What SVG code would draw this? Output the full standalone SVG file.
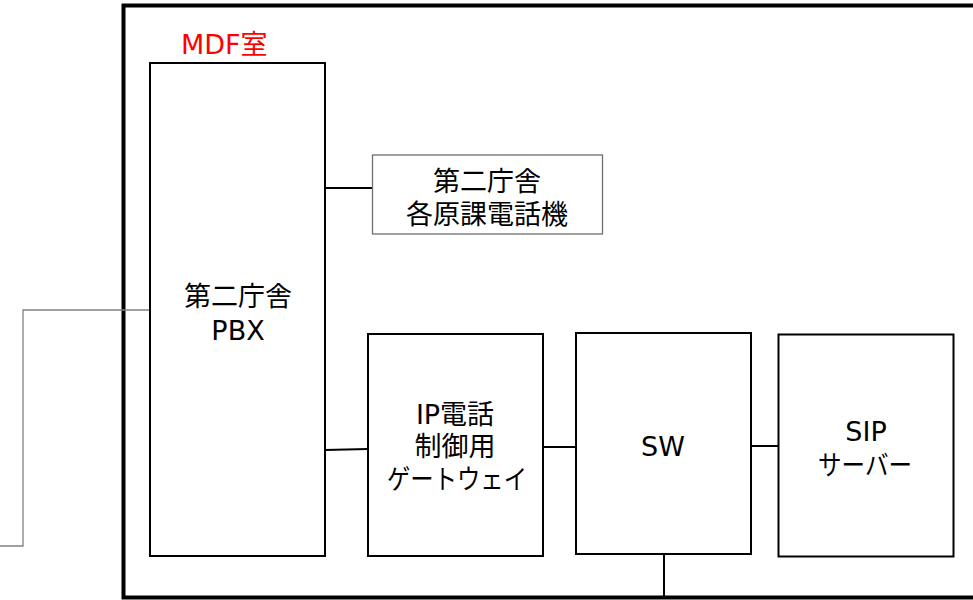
<svg xmlns="http://www.w3.org/2000/svg" width="973" height="600" viewBox="0 0 973 600">
<style>
.box{fill:#fff;stroke:#000;stroke-width:2}
.thin{fill:#fff;stroke:#6f6f6f;stroke-width:1.3}
.t{font-family:"DejaVu Sans","Noto Sans CJK JP",sans-serif;font-size:27px;fill:#000;text-anchor:middle}
.c{stroke:#000;stroke-width:2;fill:none}
</style>
<rect width="973" height="600" fill="#fff"/>
<g id="mdf-room">
<rect x="123.5" y="5.5" width="860" height="592" fill="none" stroke="#000" stroke-width="4"/>
<text x="181" y="54" font-family="DejaVu Sans,'Noto Sans CJK JP',sans-serif" font-size="27" fill="#ff0000">MDF室</text>
</g>
<g id="connectors">
<polyline points="150,310 23,310 23,546 0,546" fill="none" stroke="#808080" stroke-width="1.3"/>
<line class="c" x1="325" y1="188" x2="372" y2="188"/>
<line class="c" x1="325" y1="450" x2="368" y2="449"/>
<line class="c" x1="543" y1="447" x2="576" y2="447"/>
<line class="c" x1="751" y1="446" x2="778" y2="446"/>
<line class="c" x1="664" y1="554" x2="664" y2="597"/>
</g>
<g id="pbx">
<rect class="box" x="150" y="63" width="175" height="493"/>
<text class="t" x="238" y="306">第二庁舎</text>
<text class="t" x="238" y="340">PBX</text>
</g>
<g id="phones">
<rect class="thin" x="372.5" y="155" width="230" height="79"/>
<text class="t" x="487" y="191">第二庁舎</text>
<text class="t" x="487" y="224">各原課電話機</text>
</g>
<g id="gateway">
<rect class="box" x="368" y="334" width="175" height="222"/>
<text class="t" x="455" y="424">IP電話</text>
<text class="t" x="455" y="456">制御用</text>
<text class="t" x="457" y="489" textLength="140" lengthAdjust="spacingAndGlyphs">ゲートウェイ</text>
</g>
<g id="sw">
<rect class="box" x="576" y="333" width="175" height="221"/>
<text class="t" x="663" y="456">SW</text>
</g>
<g id="sip">
<rect class="box" x="778.5" y="334.5" width="175" height="222"/>
<text class="t" x="866" y="441">SIP</text>
<text class="t" x="865" y="475" textLength="94" lengthAdjust="spacingAndGlyphs">サーバー</text>
</g>
</svg>
